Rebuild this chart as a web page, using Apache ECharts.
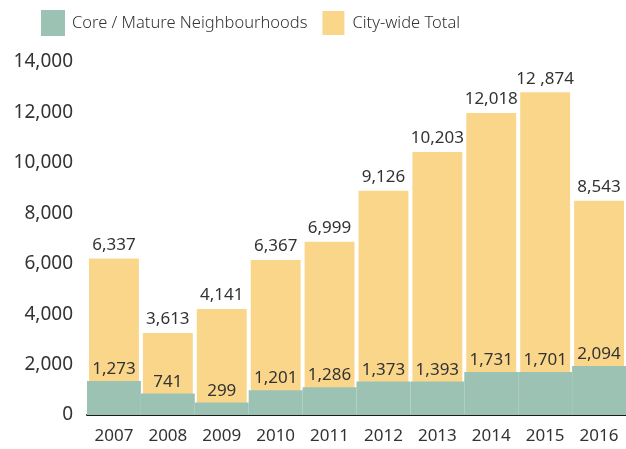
<!DOCTYPE html>
<html lang="en" style="height: 100%">
<head>
    <meta charset="UTF-8">
    <title>Core / Mature Neighbourhoods vs City-wide Total</title>
    <script src="https://cdn.jsdelivr.net/npm/echarts@6/dist/echarts.min.js"></script>
</head>
<body style="height: 100%; margin: 0">
<div id="main" style="width: 626px; height: 449px"></div>
<script>
    var years = ['2007', '2008', '2009', '2010', '2011', '2012', '2013', '2014', '2015', '2016'];
    // bar heights as drawn in the picture
    var totalValues = [6290, 3332, 4286, 6223, 6950, 8978, 10505, 12056, 12875, 8581];
    var coreValues = [1344, 855, 497, 986, 1105, 1332, 1332, 1702, 1702, 1940];
    // numbers printed over the bars
    var totalLabels = ['6,337', '3,613', '4,141', '6,367', '6,999', '9,126', '10,203', '12,018', '12 ,874', '8,543'];
    var coreLabels = ['1,273', '741', '299', '1,201', '1,286', '1,373', '1,393', '1,731', '1,701', '2,094'];
    var yTicks = [0, 2000, 4000, 6000, 8000, 10000, 12000, 14000];

    var font = 'Noto Sans';
    var textColor = '#333';

    var myChart = echarts.init(document.getElementById('main'));
    var myoption = {
        animation: false,
        legend: {
            left: 36,
            top: 4,
            icon: 'rect',
            itemWidth: 24,
            itemHeight: 26,
            itemGap: 13,
            data: ['Core / Mature Neighbourhoods', 'City-wide Total'],
            textStyle: {fontFamily: font, fontSize: 16.5, color: textColor, fontWeight: 300, padding: [8, 0, 0, 2]}
        },
        grid: {left: 87, right: -5, top: 62, bottom: 34},
        xAxis: {
            type: 'category',
            data: years,
            axisTick: {show: false},
            axisLine: {lineStyle: {color: '#1a1a1a', width: 2}},
            axisLabel: {fontFamily: font, fontSize: 17, color: textColor, margin: 13}
        },
        yAxis: {
            type: 'value',
            min: yTicks[0],
            max: yTicks[yTicks.length - 1],
            interval: 2000,
            splitLine: {show: false},
            axisLine: {show: false},
            axisTick: {show: false},
            axisLabel: {
                fontFamily: font, fontSize: 19, color: textColor, margin: 14,
                formatter: function (v) { return v.toLocaleString('en-US'); }
            }
        },
        series: [
            {
                name: 'City-wide Total',
                type: 'bar',
                barWidth: '100%',
                data: totalValues,
                itemStyle: {color: '#fad68b', borderColor: '#fff', borderWidth: 2},
                label: {
                    show: true, position: 'top', distance: 3,
                    fontFamily: font, fontSize: 17, color: textColor,
                    formatter: function (p) { return totalLabels[p.dataIndex]; }
                }
            },
            {
                name: 'Core / Mature Neighbourhoods',
                type: 'bar',
                barWidth: '100%',
                barGap: '-100%',
                data: coreValues,
                itemStyle: {color: '#9cc2b3'},
                label: {
                    show: true, position: 'top', distance: 3,
                    fontFamily: font, fontSize: 17, color: textColor,
                    formatter: function (p) { return coreLabels[p.dataIndex]; }
                }
            }
        ]
    };
    myChart.setOption(myoption);
</script>
</body>
</html>
